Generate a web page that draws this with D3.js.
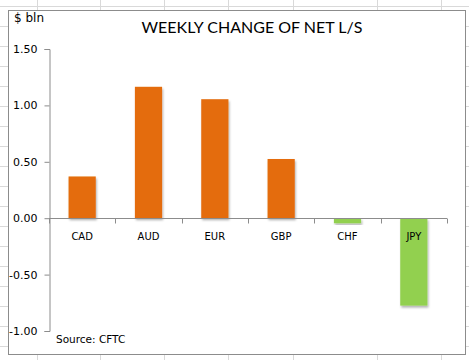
<!DOCTYPE html>
<html>
<head>
<meta charset="utf-8">
<script src="https://cdn.jsdelivr.net/npm/d3@7"></script>
<style>
  body { margin: 0; background: #fff; }
  svg { display: block; }
</style>
</head>
<body>
<div id="chart"></div>
<script>
// data
const categories = ['CAD', 'AUD', 'EUR', 'GBP', 'CHF', 'JPY'];
const netChange = [0.37, 1.165, 1.055, 0.525, -0.045, -0.775];
const yTicks = [-1, -0.5, 0, 0.5, 1, 1.5];

const W = 469, H = 360;
const frame = { x: 8, y: 10, w: 457, h: 344 };
const plot = { left: 49, right: 447, top: 49, bottom: 331 };

const svg = d3.select('#chart').append('svg')
    .attr('width', W)
    .attr('height', H);

// bar shadow
const defs = svg.append('defs');
defs.append('filter')
    .attr('id', 'shadow')
    .attr('x', '-20%').attr('y', '-20%')
    .attr('width', '140%').attr('height', '140%')
    .append('feDropShadow')
    .attr('dx', 1).attr('dy', 2)
    .attr('stdDeviation', 1.2)
    .attr('flood-color', '#000')
    .attr('flood-opacity', 0.3);

// spreadsheet cells behind the chart
const cols = [37, 100, 164, 228, 293, 377, 441];
const grid = svg.append('g').attr('stroke', '#d9d9d9').attr('stroke-width', 1);
grid.selectAll('line.col').data(cols).join('line')
    .attr('class', 'col')
    .attr('x1', d => d + 0.5).attr('x2', d => d + 0.5)
    .attr('y1', 0).attr('y2', H);
grid.selectAll('line.row').data(d3.range(6.5, H, 20)).join('line')
    .attr('class', 'row')
    .attr('x1', 0).attr('x2', W)
    .attr('y1', d => d).attr('y2', d => d);

// chart area
svg.append('rect')
    .attr('x', frame.x + 0.5).attr('y', frame.y + 0.5)
    .attr('width', frame.w).attr('height', frame.h)
    .attr('fill', '#fff')
    .attr('stroke', '#8c8c8c');

const x = d3.scaleBand()
    .domain(categories)
    .range([plot.left, plot.right])
    .paddingInner(0.59)
    .paddingOuter(0.295);

const y = d3.scaleLinear()
    .domain([-1, 1.5])
    .range([plot.bottom, plot.top]);

// bars
svg.append('g')
    .selectAll('rect')
    .data(categories)
    .join('rect')
    .attr('x', d => x(d))
    .attr('width', x.bandwidth())
    .attr('y', (d, i) => y(Math.max(0, netChange[i])))
    .attr('height', (d, i) => Math.abs(y(netChange[i]) - y(0)))
    .attr('fill', (d, i) => netChange[i] >= 0 ? '#e46c0a' : '#92d050')
    .attr('filter', 'url(#shadow)');

// y axis
const yAxis = svg.append('g')
    .attr('transform', `translate(${plot.left + 0.5},0)`)
    .call(d3.axisLeft(y)
        .tickValues(yTicks)
        .tickFormat(d => d.toFixed(2))
        .tickSize(5)
        .tickPadding(7));
yAxis.select('.domain').attr('stroke', '#8c8c8c');
yAxis.selectAll('.tick line').attr('stroke', '#8c8c8c');
yAxis.selectAll('.tick text')
    .attr('fill', '#000')
    .style('font-family', '"DejaVu Sans", sans-serif')
    .style('font-size', '11px');

// x axis along zero
const y0 = Math.round(y(0)) + 0.5;
const xAxis = svg.append('g');
xAxis.append('line')
    .attr('x1', plot.left).attr('x2', plot.right)
    .attr('y1', y0).attr('y2', y0)
    .attr('stroke', '#8c8c8c');
xAxis.selectAll('line.tick')
    .data(d3.range(categories.length + 1))
    .join('line')
    .attr('class', 'tick')
    .attr('x1', i => Math.round(plot.left + i * x.step()) + 0.5)
    .attr('x2', i => Math.round(plot.left + i * x.step()) + 0.5)
    .attr('y1', y0).attr('y2', y0 + 5)
    .attr('stroke', '#8c8c8c');
xAxis.selectAll('text')
    .data(categories)
    .join('text')
    .attr('x', d => x(d) + x.bandwidth() / 2)
    .attr('y', y0 + 21)
    .attr('text-anchor', 'middle')
    .style('font-family', '"DejaVu Sans", sans-serif')
    .style('font-size', '10px')
    .text(d => d);

// titles
svg.append('text')
    .attr('x', 252).attr('y', 32.5)
    .attr('text-anchor', 'middle')
    .style('font-family', 'Lato, sans-serif')
    .style('font-size', '16px')
    .text('WEEKLY CHANGE OF NET L/S');

svg.append('text')
    .attr('x', 14).attr('y', 21.5)
    .style('font-family', '"DejaVu Sans", sans-serif')
    .style('font-size', '12px')
    .text('$ bln');

svg.append('text')
    .attr('x', 56).attr('y', 342.5)
    .style('font-family', '"DejaVu Sans", sans-serif')
    .style('font-size', '10.5px')
    .text('Source: CFTC');
</script>
</body>
</html>
